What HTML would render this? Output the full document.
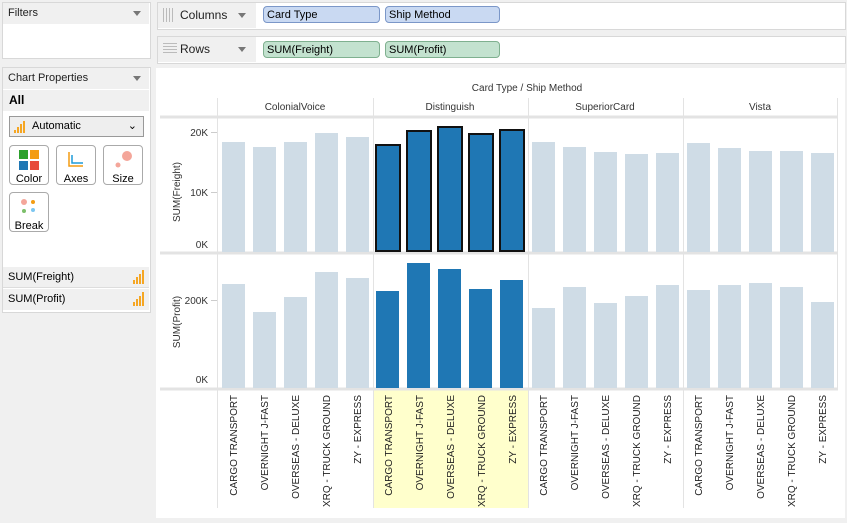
<!DOCTYPE html>
<html><head><style>
body{margin:0;width:847px;height:523px;background:#f0f0f0;font-family:"Liberation Sans",sans-serif;font-size:11px;position:relative;overflow:hidden}
.a{position:absolute}
.pan{background:#fff;border:1px solid #d8d8d8}
.hdr{background:#f0f0f0;color:#222;font-size:11px}
.arr{position:absolute;width:0;height:0;border-left:4px solid transparent;border-right:4px solid transparent;border-top:5px solid #777}
.pill{position:absolute;height:17px;border:1px solid #8aa;border-radius:4px;font-size:11px;line-height:17px;padding-left:3px;box-sizing:border-box}
.btn{position:absolute;width:40px;height:40px;border:1px solid #aaa;border-radius:4px;background:#fff;box-sizing:border-box;text-align:center;font-size:11px}
</style></head><body>
<div class="a pan" style="left:2px;top:2px;width:147px;height:55px"></div>
<div class="a hdr" style="left:3px;top:3px;width:146px;height:21px;line-height:21px;padding-left:5px;box-sizing:border-box">Filters</div>
<div class="arr" style="left:133px;top:11px"></div>
<div class="a pan" style="left:2px;top:67px;width:147px;height:244px;background:#fff"></div>
<div class="a hdr" style="left:3px;top:68px;width:146px;height:21px;line-height:21px;padding-left:5px;box-sizing:border-box">Chart Properties</div>
<div class="arr" style="left:133px;top:76px"></div>
<div class="a" style="left:3px;top:90px;width:146px;height:21px;line-height:21px;padding-left:6px;box-sizing:border-box;background:#f0f0f0;font-weight:bold;font-size:12px">All</div>
<div class="a" style="left:9px;top:116px;width:135px;height:21px;border:1px solid #999;background:#eee;box-sizing:border-box;line-height:19px;padding-left:22px">Automatic<span style="position:absolute;right:6px;top:0">&#8964;</span>
<svg class="a" style="left:4px;top:4px" width="14" height="12"><rect x="0" y="9" width="2" height="3" fill="#f5a623"/><rect x="3" y="6" width="2" height="6" fill="#f5a623"/><rect x="6" y="3" width="2" height="9" fill="#f5a623"/><rect x="9" y="0" width="2" height="12" fill="#f5a623"/></svg></div>
<div class="btn" style="left:9px;top:145px"><svg width="20" height="20" style="margin-top:4px"><rect x="0" y="0" width="9" height="9" fill="#2ca02c"/><rect x="11" y="0" width="9" height="9" fill="#f39c12"/><rect x="0" y="11" width="9" height="9" fill="#1f77b4"/><rect x="11" y="11" width="9" height="9" fill="#e74c3c"/></svg><div>Color</div></div>
<div class="btn" style="left:56px;top:145px"><svg width="20" height="20" style="margin-top:4px"><path d="M3 2V16H17" stroke="#f39c12" stroke-width="1.5" fill="none"/><path d="M6 5V13H17" stroke="#1f9bd8" stroke-width="1.5" fill="none"/></svg><div>Axes</div></div>
<div class="btn" style="left:103px;top:145px"><svg width="20" height="20" style="margin-top:4px"><circle cx="14" cy="6" r="5" fill="#f4a69a"/><circle cx="5" cy="15" r="2.5" fill="#f4a69a"/></svg><div>Size</div></div>
<div class="btn" style="left:9px;top:192px"><svg width="20" height="20" style="margin-top:4px"><circle cx="5" cy="5" r="3" fill="#f4a69a"/><circle cx="14" cy="5" r="2" fill="#f39c12"/><circle cx="5" cy="14" r="2" fill="#7cbf6a"/><circle cx="14" cy="13" r="2" fill="#7cc6f0"/></svg><div>Break</div></div>
<div class="a" style="left:3px;top:267px;width:146px;height:21px;background:#f0f0f0;border-bottom:1px solid #ddd;line-height:21px;padding-left:5px;box-sizing:border-box">SUM(Freight)</div>
<div class="a" style="left:3px;top:289px;width:146px;height:21px;background:#f0f0f0;line-height:21px;padding-left:5px;box-sizing:border-box">SUM(Profit)</div>
<svg class="a" style="left:133px;top:270px" width="14" height="14"><rect x="0" y="10" width="2" height="4" fill="#f5a623"/><rect x="3" y="7" width="2" height="7" fill="#f5a623"/><rect x="6" y="4" width="2" height="10" fill="#f5a623"/><rect x="9" y="0" width="2" height="14" fill="#f5a623"/></svg>
<svg class="a" style="left:133px;top:292px" width="14" height="14"><rect x="0" y="10" width="2" height="4" fill="#f5a623"/><rect x="3" y="7" width="2" height="7" fill="#f5a623"/><rect x="6" y="4" width="2" height="10" fill="#f5a623"/><rect x="9" y="0" width="2" height="14" fill="#f5a623"/></svg>
<div class="a pan" style="left:157px;top:2px;width:687px;height:26px"></div>
<div class="a hdr" style="left:158px;top:3px;width:98px;height:25px;line-height:25px;padding-left:22px;box-sizing:border-box;font-size:12px">Columns</div>
<div class="arr" style="left:238px;top:13px"></div>
<svg class="a" style="left:163px;top:8px" width="12" height="14"><g fill="#bbb"><rect x="0" y="0" width="1" height="14"/><rect x="3" y="0" width="1" height="14"/><rect x="6" y="0" width="1" height="14"/><rect x="9" y="0" width="1" height="14"/></g></svg>
<div class="pill" style="left:263px;top:6px;width:117px;background:#c9d9f2;border-color:#7b97c8">Card Type</div>
<div class="pill" style="left:385px;top:6px;width:115px;background:#c9d9f2;border-color:#7b97c8">Ship Method</div>
<div class="a pan" style="left:157px;top:36px;width:687px;height:26px"></div>
<div class="a hdr" style="left:158px;top:37px;width:98px;height:25px;line-height:25px;padding-left:22px;box-sizing:border-box;font-size:12px">Rows</div>
<div class="arr" style="left:238px;top:47px"></div>
<svg class="a" style="left:163px;top:43px" width="14" height="12"><g fill="#bbb"><rect x="0" y="0" width="14" height="1"/><rect x="0" y="3" width="14" height="1"/><rect x="0" y="6" width="14" height="1"/><rect x="0" y="9" width="14" height="1"/></g></svg>
<div class="pill" style="left:263px;top:41px;width:117px;background:#c3e2cf;border-color:#7fb08f">SUM(Freight)</div>
<div class="pill" style="left:385px;top:41px;width:115px;background:#c3e2cf;border-color:#7fb08f">SUM(Profit)</div>
<svg class="a" style="left:0;top:0" width="847" height="523" font-family="Liberation Sans, sans-serif" font-size="10" fill="#333">
<rect x="156" y="68" width="689" height="450" fill="#fff"/>
<rect x="373" y="390" width="155" height="118" fill="#ffffcc"/>
<text x="527" y="91" text-anchor="middle">Card Type / Ship Method</text>
<g text-anchor="middle" font-size="10">
<text x="295" y="110">ColonialVoice</text><text x="450" y="110">Distinguish</text><text x="605" y="110">SuperiorCard</text><text x="760" y="110">Vista</text></g>
<g stroke="#e3e3e3" stroke-width="1">
<line x1="217.5" y1="98" x2="217.5" y2="508"/><line x1="373.5" y1="98" x2="373.5" y2="508"/><line x1="528.5" y1="98" x2="528.5" y2="508"/><line x1="683.5" y1="98" x2="683.5" y2="508"/><line x1="837.5" y1="98" x2="837.5" y2="390"/>
</g>
<g stroke="#e3e3e3" stroke-width="3"><line x1="160" y1="117" x2="838" y2="117"/><line x1="160" y1="253" x2="838" y2="253"/><line x1="160" y1="389" x2="838" y2="389"/></g>
<g stroke="#ccc"><line x1="211" y1="132.5" x2="217" y2="132.5"/><line x1="211" y1="192.5" x2="217" y2="192.5"/><line x1="211" y1="300.5" x2="217" y2="300.5"/></g>
<g text-anchor="end" font-size="10"><text x="208" y="136">20K</text><text x="208" y="196">10K</text><text x="208" y="248">0K</text><text x="208" y="304">200K</text><text x="208" y="383">0K</text></g>
<text transform="translate(180,192) rotate(-90)" text-anchor="middle">SUM(Freight)</text>
<text transform="translate(180,322) rotate(-90)" text-anchor="middle">SUM(Profit)</text>
<g fill="#cfdce6">
<rect x="222" y="142" width="23" height="110"/><rect x="253" y="147" width="23" height="105"/><rect x="284" y="142" width="23" height="110"/><rect x="315" y="133" width="23" height="119"/><rect x="346" y="137" width="23" height="115"/>
<rect x="532" y="142" width="23" height="110"/><rect x="563" y="147" width="23" height="105"/><rect x="594" y="152" width="23" height="100"/><rect x="625" y="154" width="23" height="98"/><rect x="656" y="153" width="23" height="99"/>
<rect x="687" y="143" width="23" height="109"/><rect x="718" y="148" width="23" height="104"/><rect x="749" y="151" width="23" height="101"/><rect x="780" y="151" width="23" height="101"/><rect x="811" y="153" width="23" height="99"/>
</g>
<g fill="#1f77b4" stroke="#111" stroke-width="2">
<rect x="376" y="145" width="24" height="106"/><rect x="407" y="131" width="24" height="120"/><rect x="438" y="127" width="24" height="124"/><rect x="469" y="134" width="24" height="117"/><rect x="500" y="130" width="24" height="121"/>
</g>
<g fill="#cfdce6">
<rect x="222" y="284" width="23" height="104"/><rect x="253" y="312" width="23" height="76"/><rect x="284" y="297" width="23" height="91"/><rect x="315" y="272" width="23" height="116"/><rect x="346" y="278" width="23" height="110"/>
<rect x="532" y="308" width="23" height="80"/><rect x="563" y="287" width="23" height="101"/><rect x="594" y="303" width="23" height="85"/><rect x="625" y="296" width="23" height="92"/><rect x="656" y="285" width="23" height="103"/>
<rect x="687" y="290" width="23" height="98"/><rect x="718" y="285" width="23" height="103"/><rect x="749" y="283" width="23" height="105"/><rect x="780" y="287" width="23" height="101"/><rect x="811" y="302" width="23" height="86"/>
</g>
<g fill="#1f77b4">
<rect x="376" y="291" width="23" height="97"/><rect x="407" y="263" width="23" height="125"/><rect x="438" y="269" width="23" height="119"/><rect x="469" y="289" width="23" height="99"/><rect x="500" y="280" width="23" height="108"/>
</g>
<g font-size="10" text-anchor="end" fill="#222">
<text transform="translate(237,395) rotate(-90)">CARGO TRANSPORT</text><text transform="translate(268,395) rotate(-90)">OVERNIGHT J-FAST</text><text transform="translate(299,395) rotate(-90)">OVERSEAS - DELUXE</text><text transform="translate(330,395) rotate(-90)">XRQ - TRUCK GROUND</text><text transform="translate(361,395) rotate(-90)">ZY - EXPRESS</text>
<text transform="translate(392,395) rotate(-90)">CARGO TRANSPORT</text><text transform="translate(423,395) rotate(-90)">OVERNIGHT J-FAST</text><text transform="translate(454,395) rotate(-90)">OVERSEAS - DELUXE</text><text transform="translate(485,395) rotate(-90)">XRQ - TRUCK GROUND</text><text transform="translate(516,395) rotate(-90)">ZY - EXPRESS</text>
<text transform="translate(547,395) rotate(-90)">CARGO TRANSPORT</text><text transform="translate(578,395) rotate(-90)">OVERNIGHT J-FAST</text><text transform="translate(609,395) rotate(-90)">OVERSEAS - DELUXE</text><text transform="translate(640,395) rotate(-90)">XRQ - TRUCK GROUND</text><text transform="translate(671,395) rotate(-90)">ZY - EXPRESS</text>
<text transform="translate(702,395) rotate(-90)">CARGO TRANSPORT</text><text transform="translate(733,395) rotate(-90)">OVERNIGHT J-FAST</text><text transform="translate(764,395) rotate(-90)">OVERSEAS - DELUXE</text><text transform="translate(795,395) rotate(-90)">XRQ - TRUCK GROUND</text><text transform="translate(826,395) rotate(-90)">ZY - EXPRESS</text>
</g>
</svg>
</body></html>
